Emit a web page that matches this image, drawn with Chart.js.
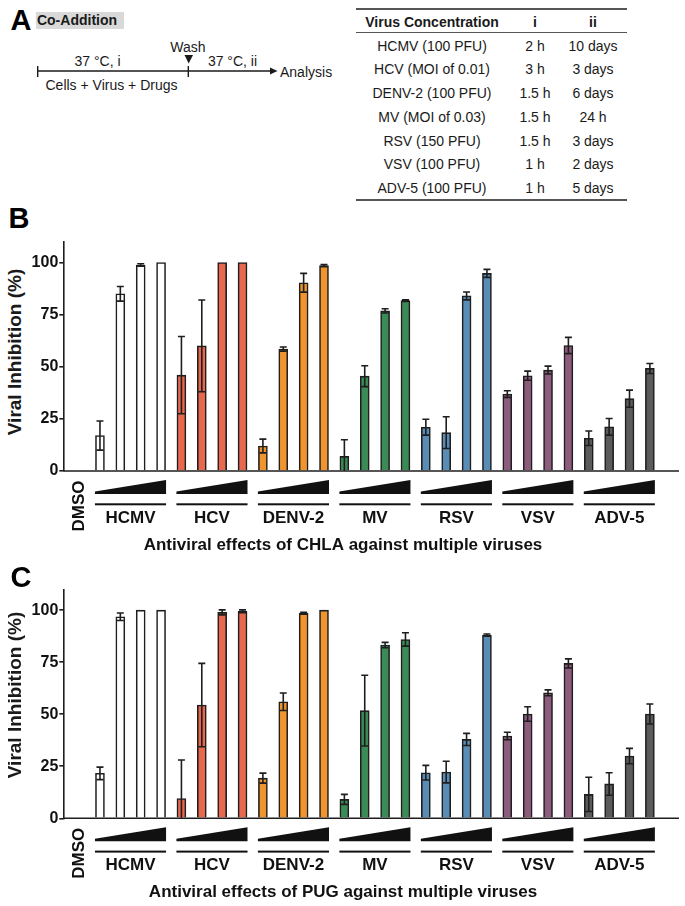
<!DOCTYPE html>
<html>
<head>
<meta charset="utf-8">
<script src="https://cdn.jsdelivr.net/npm/chart.js@4.4.1/dist/chart.umd.min.js"></script>
<style>
  body { margin: 0; background: #fff; width: 685px; height: 906px; position: relative; overflow: hidden;
         font-family: "Liberation Sans", Arial, sans-serif; color: #1a1a1a; }
  .t { position: absolute; white-space: nowrap; line-height: 1; transform: translate(-50%, -50%); }
  .letter { font-weight: bold; font-size: 29px; color: #000; }
  .ytitle { font-weight: bold; font-size: 19px; transform: translate(-50%, -50%) rotate(-90deg); }
  .hline { position: absolute; height: 1.5px; background: #555; }
  .panel { position: absolute; left: 0; }
</style>
</head>
<body>

<!-- panel A -->
<div class="t letter" style="left:21px;top:20px">A</div>
<div style="position:absolute;left:36px;top:12px;width:88px;height:17px;background:#d9d9d9"></div>
<div class="t" style="left:77px;top:20px;font-weight:bold;font-size:14px">Co-Addition</div>

<svg style="position:absolute;left:0;top:0" width="345" height="100">
  <g stroke="#1a1a1a" stroke-width="1.4">
    <line x1="37.7" y1="71" x2="272" y2="71"/>
    <line x1="37.7" y1="66" x2="37.7" y2="77"/>
    <line x1="188.3" y1="66" x2="188.3" y2="77"/>
  </g>
  <polygon points="270,67.5 277.5,71 270,74.5" fill="#1a1a1a"/>
  <polygon points="184.5,55 193,55 188.7,63.5" fill="#1a1a1a"/>
  <g font-family="Liberation Sans, Arial, sans-serif" font-size="14" fill="#1a1a1a" text-anchor="middle">
    <text x="97.5" y="66">37 °C, i</text>
    <text x="232.5" y="66">37 °C, ii</text>
    <text x="188" y="52">Wash</text>
    <text x="111.5" y="90">Cells + Virus + Drugs</text>
    <text x="280" y="77" text-anchor="start">Analysis</text>
  </g>
</svg>

<div id="table"></div>

<!-- panels B and C -->
<div class="t letter" style="left:19px;top:218px">B</div>
<div class="t ytitle" style="left:14px;top:352px">Viral Inhibition (%)</div>
<div class="panel" style="top:200px"><canvas id="chartB" width="685" height="380"></canvas></div>

<div class="t letter" style="left:21px;top:577px">C</div>
<div class="t ytitle" style="left:14px;top:695px">Viral Inhibition (%)</div>
<div class="panel" style="top:548px"><canvas id="chartC" width="685" height="358"></canvas></div>

<script>
// table in panel A
const tableViruses = ['HCMV (100 PFU)', 'HCV (MOI of 0.01)', 'DENV-2 (100 PFU)', 'MV (MOI of 0.03)',
                      'RSV (150 PFU)', 'VSV (100 PFU)', 'ADV-5 (100 PFU)'];
const tableTimeI = ['2 h', '3 h', '1.5 h', '1.5 h', '1.5 h', '1 h', '1 h'];
const tableTimeII = ['10 days', '3 days', '6 days', '24 h', '3 days', '2 days', '5 days'];

// bar charts: 7 viruses x 4 increasing doses (DMSO control at 0)
const viruses = ['HCMV', 'HCV', 'DENV-2', 'MV', 'RSV', 'VSV', 'ADV-5'];
const barColors = ['#ffffff', '#e8674f', '#f0942e', '#3b8b56', '#5a8db5', '#8d5b7c', '#5b5b5b'];

const chlaMean = [[17, 85, 98.8, 100], [46, 60, 100, 100], [12, 58.5, 90.3, 98.5], [7, 45.5, 76.8, 81.7],
                  [21, 18.4, 84, 94.8], [36.9, 45.7, 48.4, 60.2], [15.7, 21.2, 34.7, 49.2]];
const chlaErr = [[7, 3.5, 0.6, 0], [18.5, 22, 0, 0], [3.3, 1, 4.5, 0.5], [8, 5, 1, 0.4],
                 [3.8, 7.6, 1.9, 1.9], [1.6, 2.2, 1.9, 3.9], [3.5, 4, 4.1, 2.4]];

const pugMean = [[21.6, 96.8, 100, 100], [9.5, 54.4, 98.9, 99.4], [19.3, 56, 98.5, 100], [9.1, 51.7, 83.2, 85.9],
                 [21.9, 22.2, 37.9, 88], [39.5, 50.1, 60.3, 74.4], [11.5, 16.5, 29.9, 50.1]];
const pugErr = [[3, 1.8, 0, 0], [18.5, 20, 1.2, 0.7], [2.4, 4.2, 0.5, 0], [2.4, 17, 1.3, 3.2],
                [3.5, 5.2, 2.9, 0.5], [1.8, 3.5, 1.4, 2.2], [8.2, 5.4, 3.7, 4.8]];

const yTicks = [0, 25, 50, 75, 100];

// build the table
const tbl = document.getElementById('table');
function addText(txt, x, y, style) {
    const d = document.createElement('div');
    d.className = 't';
    d.style.left = x + 'px';
    d.style.top = y + 'px';
    d.style.fontSize = '14px';
    if (style) d.style.fontWeight = style;
    d.textContent = txt;
    tbl.appendChild(d);
}
function addLine(y) {
    const d = document.createElement('div');
    d.className = 'hline';
    d.style.left = '356px';
    d.style.width = '271px';
    d.style.top = (y - 0.75) + 'px';
    tbl.appendChild(d);
}
addLine(9);
addLine(32.7);
addLine(200);
addText('Virus Concentration', 432, 21.7, 'bold');
addText('i', 535, 21.7, 'bold');
addText('ii', 593, 21.7, 'bold');
tableViruses.forEach((v, i) => {
    const y = 45.7 + i * 23.75;
    addText(v, 432, y);
    addText(tableTimeI[i], 535, y);
    addText(tableTimeII[i], 593, y);
});

const INK = '#1e1e1e';
const FONT = '"Liberation Sans", Arial, sans-serif';

// error bars, axis baseline, dose wedges and group labels
function panelPlugin(errList, title) {
    return {
        id: 'panelDecor',
        afterDatasetsDraw(chart) {
            const ctx = chart.ctx;
            const ys = chart.scales.y;
            const pts = chart.data.datasets[0].data;
            ctx.save();
            ctx.strokeStyle = INK;
            ctx.lineWidth = 1.6;
            chart.getDatasetMeta(0).data.forEach((bar, i) => {
                const e = errList[i];
                if (!e) return;
                const v = pts[i].y;
                const yTop = ys.getPixelForValue(v + e);
                const low = v - e;
                const yBot = ys.getPixelForValue(Math.max(low, 0));
                ctx.beginPath();
                ctx.moveTo(bar.x, yTop); ctx.lineTo(bar.x, yBot);
                ctx.moveTo(bar.x - 3.5, yTop); ctx.lineTo(bar.x + 3.5, yTop);
                if (low > 0) { ctx.moveTo(bar.x - 3.5, yBot); ctx.lineTo(bar.x + 3.5, yBot); }
                ctx.stroke();
            });
            ctx.restore();
        },
        afterDraw(chart) {
            const ctx = chart.ctx;
            const xs = chart.scales.x;
            const a = chart.chartArea;
            const y0 = chart.scales.y.getPixelForValue(0);
            ctx.save();
            ctx.strokeStyle = INK;
            ctx.lineWidth = 1.6;
            ctx.beginPath();
            ctx.moveTo(a.left, y0);
            ctx.lineTo(a.right, y0);
            ctx.stroke();

            ctx.fillStyle = '#111';
            ctx.font = 'bold 17px ' + FONT;
            ctx.textAlign = 'center';
            ctx.textBaseline = 'middle';
            viruses.forEach((name, g) => {
                const xl = xs.getPixelForValue(1 + g * 4) - 5;
                const xr = xs.getPixelForValue(4 + g * 4) + 5;
                ctx.beginPath();
                ctx.moveTo(xl, y0 + 23);
                ctx.lineTo(xl, y0 + 20.5);
                ctx.lineTo(xr, y0 + 9);
                ctx.lineTo(xr, y0 + 23);
                ctx.closePath();
                ctx.fill();
                ctx.fillRect(xl, y0 + 32.3, xr - xl, 2);
                ctx.fillText(name, (xl + xr) / 2, y0 + 47);
            });

            // DMSO label, vertical
            ctx.save();
            ctx.translate(xs.getPixelForValue(0), y0 + 35);
            ctx.rotate(-Math.PI / 2);
            ctx.fillText('DMSO', 0, 0);
            ctx.restore();

            ctx.fillText(title, 343, y0 + 74);
            ctx.restore();
        }
    };
}

function drawPanel(id, means, errs, title, padTop, padBottom) {
    const pts = [], cols = [], errList = [];
    means.forEach((g, gi) => g.forEach((v, k) => {
        pts.push({x: 1 + gi * 4 + k, y: v});
        cols.push(barColors[gi]);
        errList.push(errs[gi][k]);
    }));

    new Chart(document.getElementById(id), {
        type: 'bar',
        data: {
            datasets: [{
                data: pts,
                backgroundColor: cols,
                borderColor: INK,
                borderWidth: 1.6,
                barThickness: 9
            }]
        },
        options: {
            responsive: false,
            animation: false,
            devicePixelRatio: 1,
            layout: { padding: { top: padTop, right: 6, bottom: padBottom, left: 0 } },
            plugins: { legend: { display: false }, tooltip: { enabled: false } },
            scales: {
                x: { type: 'linear', min: -0.8, max: 29.43, offset: false, display: false },
                y: {
                    min: 0,
                    max: 110,
                    afterBuildTicks: s => { s.ticks = yTicks.map(v => ({value: v})); },
                    afterFit: s => { s.width = 63.3; },
                    border: { display: true, color: INK, width: 1.6 },
                    grid: { drawOnChartArea: false, drawTicks: true, tickLength: 4, color: INK, lineWidth: 1.6 },
                    ticks: { padding: 1, color: '#111', font: { family: FONT, size: 16, weight: 'bold' } }
                }
            }
        },
        plugins: [panelPlugin(errList, title)]
    });
}

drawPanel('chartB', chlaMean, chlaErr, 'Antiviral effects of CHLA against multiple viruses', 41.7, 109);
drawPanel('chartC', pugMean, pugErr, 'Antiviral effects of PUG against multiple viruses', 41.3, 87.7);
</script>
</body>
</html>
